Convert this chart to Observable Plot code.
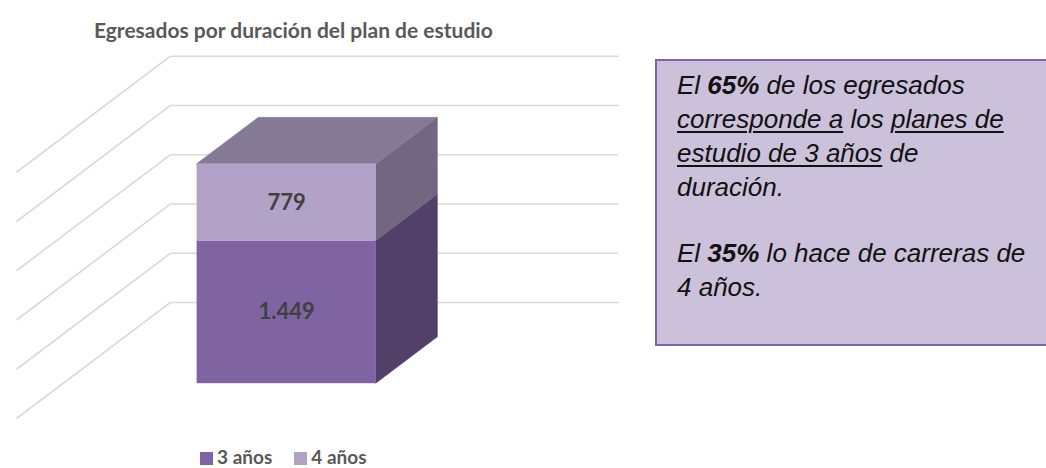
<!DOCTYPE html>
<html>
<head>
<meta charset="utf-8">
<script src="https://cdn.jsdelivr.net/npm/d3@7"></script>
<script src="https://cdn.jsdelivr.net/npm/@observablehq/plot@0.6"></script>
<style>
  html, body { margin: 0; padding: 0; background: #ffffff; }
  body { width: 1046px; height: 468px; overflow: hidden; position: relative; font-family: Lato, "Open Sans", sans-serif; }
  #title { position: absolute; left: 94px; top: 17px; font: bold 21px Lato, sans-serif; line-height: 26px; color: #595959; white-space: nowrap; }
  #chart { position: absolute; left: 0; top: 0; }
  #note { position: absolute; left: 655px; top: 59px; width: 420px; height: 287px; box-sizing: border-box;
          background: #ccc1da; border: 2px solid #8064a2; padding: 7px 0 0 20px;
          font: italic 26px "Liberation Sans", Arial, sans-serif; line-height: 34px; color: #111; }
  #note p { margin: 0 0 32px 0; white-space: nowrap; }
  #note u { text-decoration-thickness: 1.5px; text-underline-offset: 3px; }
  #legend { position: absolute; left: 200px; top: 447px; font: bold 19px Lato, sans-serif; line-height: 20px; color: #595959; white-space: nowrap; }
  #legend span.item { margin-right: 22px; }
  #legend span.sw { display: inline-block; width: 13px; height: 13px; margin-right: 4px; vertical-align: -1px; }
</style>
</head>
<body>
<div id="chart"></div>
<div id="title"></div>
<div id="note">
  <p>El <b>65%</b> de los egresados<br><u>corresponde a</u> los <u>planes de</u><br><u>estudio de 3 años</u> de<br>duración.</p>
  <p>El <b>35%</b> lo hace de carreras de<br>4 años.</p>
</div>
<div id="legend"></div>
<script>
// ---- data ----
const title = "Egresados por duración del plan de estudio";
const category = ["Egresados"];
const series = ["3 años", "4 años"];
const values = [1449, 779];
const frontColors = ["#8064a2", "#b3a2c7"];
const sideColors = ["#524069", "#726780"];
const topColor = "#857a96";
const gridTicks = [0, 500, 1000, 1500, 2000, 2500];

// ---- 3D projection settings (oblique) ----
const DX = 0.34375;   // x shift of the full depth, in x units
const DY = 1178;      // y shift of the full depth, in value units
const BF = 0.30, BB = 0.70;   // bar front/back depth
const XL = 0.30, XR = 0.70;   // bar left/right in x units
const fmt = d3.formatLocale({decimal: ",", thousands: ".", grouping: [3], currency: ["", ""]}).format(",d");

let acc = 0;
const segs = series.map((s, i) => {
  const v0 = acc; acc += values[i];
  return {series: s, value: values[i], v0, v1: acc, front: frontColors[i], side: sideColors[i]};
});
const total = acc;

const sideMarks = segs.map(seg => Plot.areaY([
  {x: XR + BF * DX, y1: seg.v0 + BF * DY, y2: seg.v1 + BF * DY},
  {x: XR + BB * DX, y1: seg.v0 + BB * DY, y2: seg.v1 + BB * DY}
], {x: "x", y1: "y1", y2: "y2", fill: seg.side, stroke: seg.side, strokeWidth: 0.5}));

const topMark = Plot.areaX([
  {y: total + BF * DY, x1: XL + BF * DX, x2: XR + BF * DX},
  {y: total + BB * DY, x1: XL + BB * DX, x2: XR + BB * DX}
], {y: "y", x1: "x1", x2: "x2", fill: topColor, stroke: topColor, strokeWidth: 0.5});

const k = 0.0985;
const chart = Plot.plot({
  width: 640,
  height: 468,
  x: {domain: [0, 1], range: [16, 464], axis: null},
  y: {domain: [0, 2500], range: [418, 418 - 2500 * k], axis: null},
  color: {type: "identity"},
  marks: [
    // back wall gridlines
    Plot.link(gridTicks, {x1: () => DX, x2: () => 1 + DX, y1: d => d + DY, y2: d => d + DY, stroke: "#d9d9d9", strokeWidth: 1.6}),
    // side wall gridlines
    Plot.link(gridTicks, {x1: () => 0, x2: () => DX, y1: d => d, y2: d => d + DY, stroke: "#d9d9d9", strokeWidth: 1.6}),
    ...sideMarks,
    topMark,
    Plot.rect(segs, {x1: () => XL + BF * DX, x2: () => XR + BF * DX, y1: d => d.v0 + BF * DY, y2: d => d.v1 + BF * DY, fill: d => d.front}),
    Plot.text(segs, {x: () => (XL + XR) / 2 + BF * DX, y: d => (d.v0 + d.v1) / 2 + BF * DY, text: d => fmt(d.value),
      fill: "#404040", fontSize: 22, fontWeight: "bold", fontFamily: "Lato"})
  ]
});
document.getElementById("chart").appendChild(chart);
document.getElementById("title").textContent = title;

const legend = document.getElementById("legend");
series.forEach((s, i) => {
  const item = document.createElement("span");
  item.className = "item";
  const sw = document.createElement("span");
  sw.className = "sw";
  sw.style.background = frontColors[i];
  item.appendChild(sw);
  item.appendChild(document.createTextNode(s));
  legend.appendChild(item);
});
</script>
</body>
</html>
